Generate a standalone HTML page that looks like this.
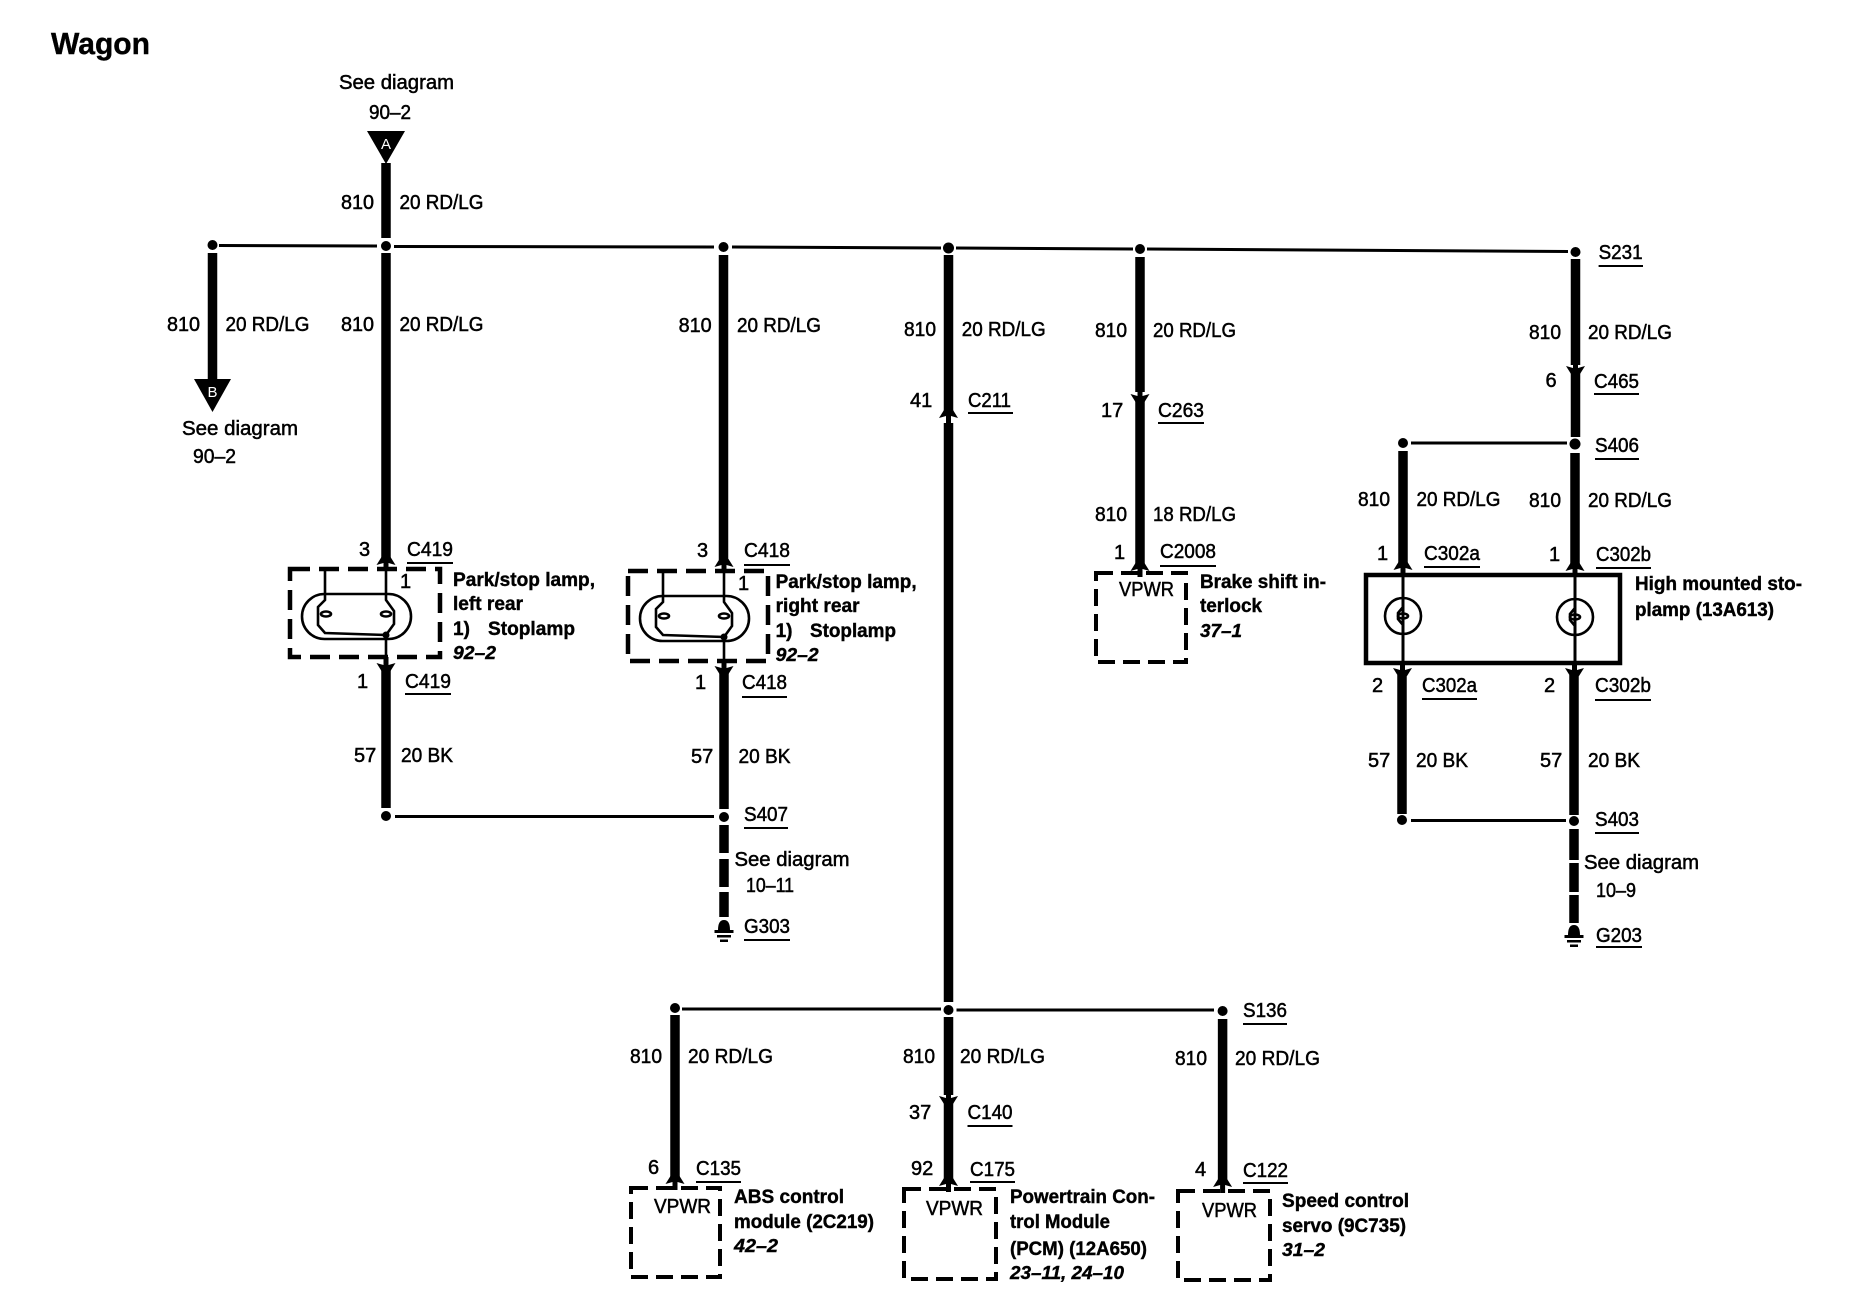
<!DOCTYPE html>
<html><head><meta charset="utf-8"><style>
html,body{margin:0;padding:0;background:#fff;width:1858px;height:1312px;overflow:hidden}
svg{display:block}
text{font-family:"Liberation Sans",sans-serif;font-size:20px;fill:#000;stroke:#000;stroke-width:.5}
.b{font-weight:bold;font-size:19px;stroke-width:.4}
.i{font-weight:bold;font-style:italic;font-size:18.5px;stroke-width:.4}
.w{stroke:#000;stroke-width:9.5;fill:none}
.h{stroke:#000;stroke-width:3;fill:none}
.u{stroke:#000;stroke-width:2;fill:none}
.d{stroke:#000;stroke-width:4.5;fill:none;stroke-dasharray:20 9}
.v{stroke:#000;stroke-width:4;fill:none;stroke-dasharray:17 8}
.t{stroke:#000;stroke-width:2.6;fill:none}
</style></head><body>
<svg width="1858" height="1312" viewBox="0 0 1858 1312" xmlns="http://www.w3.org/2000/svg">
<defs>
<path id="up" d="M0 0L4.5 2L9.5 10L2.5 8V16H-2.5V8L-9.5 10L-4.5 2Z"/>
<path id="dn" d="M0 0L4.5 -2L9.5 -10L2.5 -8V-16H-2.5V-8L-9.5 -10L-4.5 -2Z"/>
<g id="lamp">
<rect class="t" x="-84" y="25" width="109" height="45" rx="22.5"/>
<path class="t" d="M-61 0V31L-68 38V56L-61 64L0 66M0 0V31L8 42V55L0 66V96"/>
<ellipse class="t" cx="-60" cy="45" rx="5" ry="2.5"/>
<ellipse class="t" cx="0" cy="45" rx="5" ry="2.5"/>
<circle cx="0" cy="66" r="3.5"/>
</g>
<g id="bulb">
<circle class="t" cx="0" cy="0" r="18"/>
<path class="t" d="M0 -18V-9L-5 -3V3L0 9V18"/>
<ellipse class="t" cx="0" cy="0" rx="5" ry="2.5"/>
</g>
<g id="gnd">
<path d="M-6 10Q-6 0 0 0Q6 0 6 10Z"/>
<rect x="-9.5" y="10" width="19" height="3"/>
<rect x="-7" y="15" width="14" height="2.5"/>
<rect x="-4" y="19.5" width="8" height="2.5"/>
</g>
</defs>

<text x="51" y="54" style="font-size:31px;font-weight:bold;stroke-width:.4" textLength="99" lengthAdjust="spacingAndGlyphs">Wagon</text>

<!-- top bus -->
<path class="h" d="M219 245.5L377 246M394 246.5L714 247M732 247L941 248M956 248L1133 249M1147 249L1568 251.5"/>
<circle cx="212.5" cy="245" r="5"/><circle cx="386" cy="246" r="5"/><circle cx="723.5" cy="247" r="5"/><circle cx="948.5" cy="248" r="5.5"/><circle cx="1140" cy="249" r="5"/><circle cx="1575.5" cy="252" r="5"/>

<!-- A -->
<text x="339" y="89" textLength="115" lengthAdjust="spacingAndGlyphs">See diagram</text>
<text x="369" y="119" textLength="42" lengthAdjust="spacingAndGlyphs">90–2</text>
<path d="M367 131H405L386 164Z"/>
<text x="386" y="149" text-anchor="middle" style="font-size:15px;fill:#fff;stroke:none">A</text>
<path class="w" d="M386 163V238"/>
<text x="341" y="209" textLength="33" lengthAdjust="spacingAndGlyphs">810</text>
<text x="399.5" y="209" textLength="84" lengthAdjust="spacingAndGlyphs">20 RD/LG</text>

<!-- B -->
<path class="w" d="M212.5 253V382"/>
<path d="M194 379H231L212.5 412Z"/>
<text x="212.5" y="397" text-anchor="middle" style="font-size:15px;fill:#fff;stroke:none">B</text>
<text x="167" y="331" textLength="33" lengthAdjust="spacingAndGlyphs">810</text>
<text x="225.5" y="331" textLength="84" lengthAdjust="spacingAndGlyphs">20 RD/LG</text>
<text x="182" y="435" textLength="116" lengthAdjust="spacingAndGlyphs">See diagram</text>
<text x="193" y="463" textLength="43" lengthAdjust="spacingAndGlyphs">90–2</text>

<!-- left lamp -->
<path class="w" d="M386 253V558"/>
<use href="#up" x="386" y="555"/>
<text x="341" y="331" textLength="33" lengthAdjust="spacingAndGlyphs">810</text>
<text x="399.5" y="331" textLength="84" lengthAdjust="spacingAndGlyphs">20 RD/LG</text>
<text x="359" y="556">3</text>
<text x="407" y="556" textLength="46" lengthAdjust="spacingAndGlyphs">C419</text><path class="u" d="M407 563H453"/>
<path class="d" d="M290 569H440V657H290Z"/>
<use href="#lamp" x="386" y="569"/>
<text x="400" y="588">1</text>
<text class="b" x="453" y="586" textLength="142" lengthAdjust="spacingAndGlyphs">Park/stop lamp,</text>
<text class="b" x="453" y="610" textLength="70" lengthAdjust="spacingAndGlyphs">left rear</text>
<text class="b" x="453" y="635">1)</text>
<text class="b" x="488" y="635" textLength="87" lengthAdjust="spacingAndGlyphs">Stoplamp</text>
<text class="i" x="453" y="659" textLength="43" lengthAdjust="spacingAndGlyphs">92–2</text>
<use href="#dn" x="386" y="673"/>
<path class="w" d="M386 670V808"/>
<text x="357" y="688">1</text>
<text x="405" y="688" textLength="46" lengthAdjust="spacingAndGlyphs">C419</text><path class="u" d="M405 694H451"/>
<text x="354" y="762">57</text>
<text x="401" y="762" textLength="52" lengthAdjust="spacingAndGlyphs">20 BK</text>
<circle cx="386" cy="816" r="5"/>
<path class="h" d="M395 816.5H714"/>
<circle cx="724" cy="817" r="5"/>

<!-- right lamp -->
<path class="w" d="M723.5 255V560"/>
<use href="#up" x="724" y="557"/>
<text x="678.6" y="332" textLength="33" lengthAdjust="spacingAndGlyphs">810</text>
<text x="737" y="332" textLength="84" lengthAdjust="spacingAndGlyphs">20 RD/LG</text>
<text x="697" y="557">3</text>
<text x="744" y="557" textLength="46" lengthAdjust="spacingAndGlyphs">C418</text><path class="u" d="M744 565H790"/>
<path class="d" d="M628 571H768V661H628Z"/>
<use href="#lamp" x="724" y="571"/>
<text x="738" y="590">1</text>
<text class="b" x="775.6" y="588" textLength="141" lengthAdjust="spacingAndGlyphs">Park/stop lamp,</text>
<text class="b" x="775.6" y="612" textLength="84" lengthAdjust="spacingAndGlyphs">right rear</text>
<text class="b" x="775.6" y="637">1)</text>
<text class="b" x="810" y="637" textLength="86" lengthAdjust="spacingAndGlyphs">Stoplamp</text>
<text class="i" x="775.6" y="661" textLength="43" lengthAdjust="spacingAndGlyphs">92–2</text>
<use href="#dn" x="724" y="676"/>
<path class="w" d="M724 673V809"/>
<text x="695" y="689">1</text>
<text x="742" y="689" textLength="45" lengthAdjust="spacingAndGlyphs">C418</text><path class="u" d="M742 697H787"/>
<text x="691" y="763">57</text>
<text x="738.5" y="763" textLength="52" lengthAdjust="spacingAndGlyphs">20 BK</text>
<text x="744" y="821" textLength="44" lengthAdjust="spacingAndGlyphs">S407</text><path class="u" d="M744 828H788"/>
<path class="w" d="M724 825V853M724 859V887M724 892V917"/>
<text x="734.5" y="866" textLength="115" lengthAdjust="spacingAndGlyphs">See diagram</text>
<text x="746" y="892" textLength="48" lengthAdjust="spacingAndGlyphs">10–11</text>
<use href="#gnd" x="724" y="920"/>
<text x="744" y="933" textLength="46" lengthAdjust="spacingAndGlyphs">G303</text><path class="u" d="M744 940H790"/>

<!-- center trunk -->
<path class="w" d="M948.5 255V411"/>
<use href="#up" x="948.5" y="408"/>
<path class="w" d="M948.5 423V1002"/>
<text x="904" y="336" textLength="32" lengthAdjust="spacingAndGlyphs">810</text>
<text x="961.7" y="336" textLength="84" lengthAdjust="spacingAndGlyphs">20 RD/LG</text>
<text x="910" y="407">41</text>
<text x="968" y="407" textLength="43" lengthAdjust="spacingAndGlyphs">C211</text><path class="u" d="M968 413H1013"/>

<!-- bottom bus -->
<path class="h" d="M682 1009H941M956.5 1010H1214"/>
<circle cx="675" cy="1008" r="5"/><circle cx="948.5" cy="1010" r="5"/><circle cx="1222.6" cy="1011" r="5"/>
<text x="1243" y="1017" textLength="44" lengthAdjust="spacingAndGlyphs">S136</text><path class="u" d="M1243 1024H1287"/>

<path class="w" d="M675 1015V1177"/>
<use href="#up" x="675" y="1174"/>
<text x="630" y="1063" textLength="32" lengthAdjust="spacingAndGlyphs">810</text>
<text x="688" y="1063" textLength="85" lengthAdjust="spacingAndGlyphs">20 RD/LG</text>
<text x="648" y="1174">6</text>
<text x="696" y="1175" textLength="45" lengthAdjust="spacingAndGlyphs">C135</text><path class="u" d="M696 1182H741"/>
<path class="v" d="M631 1188H720V1277H631Z"/>
<text x="654" y="1213" textLength="57" lengthAdjust="spacingAndGlyphs">VPWR</text>
<text class="b" x="734" y="1203" textLength="110" lengthAdjust="spacingAndGlyphs">ABS control</text>
<text class="b" x="734" y="1228" textLength="140" lengthAdjust="spacingAndGlyphs">module (2C219)</text>
<text class="i" x="734" y="1252" textLength="44" lengthAdjust="spacingAndGlyphs">42–2</text>

<path class="w" d="M948.5 1017V1095"/>
<use href="#dn" x="948.5" y="1106"/>
<path class="w" d="M948.5 1103V1179"/>
<use href="#up" x="948.5" y="1176"/>
<text x="903" y="1063" textLength="32" lengthAdjust="spacingAndGlyphs">810</text>
<text x="960" y="1063" textLength="85" lengthAdjust="spacingAndGlyphs">20 RD/LG</text>
<text x="909" y="1119">37</text>
<text x="967.5" y="1119" textLength="45" lengthAdjust="spacingAndGlyphs">C140</text><path class="u" d="M967.5 1126H1012.5"/>
<text x="911" y="1175">92</text>
<text x="970" y="1176" textLength="45" lengthAdjust="spacingAndGlyphs">C175</text><path class="u" d="M970 1182H1015"/>
<path class="v" d="M904 1189H996V1279H904Z"/>
<text x="926" y="1215" textLength="57" lengthAdjust="spacingAndGlyphs">VPWR</text>
<text class="b" x="1010" y="1203" textLength="145" lengthAdjust="spacingAndGlyphs">Powertrain Con-</text>
<text class="b" x="1010" y="1228" textLength="100" lengthAdjust="spacingAndGlyphs">trol Module</text>
<text class="b" x="1010" y="1255" textLength="137" lengthAdjust="spacingAndGlyphs">(PCM) (12A650)</text>
<text class="i" x="1010" y="1279" textLength="114" lengthAdjust="spacingAndGlyphs">23–11, 24–10</text>

<path class="w" d="M1222.6 1019V1180"/>
<use href="#up" x="1222.6" y="1177"/>
<text x="1175" y="1065" textLength="32" lengthAdjust="spacingAndGlyphs">810</text>
<text x="1235" y="1065" textLength="85" lengthAdjust="spacingAndGlyphs">20 RD/LG</text>
<text x="1195" y="1176">4</text>
<text x="1243" y="1177" textLength="45" lengthAdjust="spacingAndGlyphs">C122</text><path class="u" d="M1243 1183H1288"/>
<path class="v" d="M1178 1191H1270V1280H1178Z"/>
<text x="1202" y="1217" textLength="55" lengthAdjust="spacingAndGlyphs">VPWR</text>
<text class="b" x="1282" y="1207" textLength="127" lengthAdjust="spacingAndGlyphs">Speed control</text>
<text class="b" x="1282" y="1232" textLength="124" lengthAdjust="spacingAndGlyphs">servo (9C735)</text>
<text class="i" x="1282" y="1256" textLength="43" lengthAdjust="spacingAndGlyphs">31–2</text>

<!-- brake -->
<path class="w" d="M1140 257V392"/>
<use href="#dn" x="1140" y="404"/>
<path class="w" d="M1140 401V564"/>
<use href="#up" x="1140" y="561"/>
<text x="1095" y="337" textLength="32" lengthAdjust="spacingAndGlyphs">810</text>
<text x="1153" y="337" textLength="83" lengthAdjust="spacingAndGlyphs">20 RD/LG</text>
<text x="1101" y="417">17</text>
<text x="1158" y="417" textLength="46" lengthAdjust="spacingAndGlyphs">C263</text><path class="u" d="M1158 423H1204"/>
<text x="1095" y="521" textLength="32" lengthAdjust="spacingAndGlyphs">810</text>
<text x="1153" y="521" textLength="83" lengthAdjust="spacingAndGlyphs">18 RD/LG</text>
<text x="1114" y="559">1</text>
<text x="1160" y="558" textLength="56" lengthAdjust="spacingAndGlyphs">C2008</text><path class="u" d="M1160 566H1216"/>
<path class="v" d="M1096 573H1186V662H1096Z"/>
<text x="1119" y="596" textLength="55" lengthAdjust="spacingAndGlyphs">VPWR</text>
<text class="b" x="1200" y="588" textLength="126" lengthAdjust="spacingAndGlyphs">Brake shift in-</text>
<text class="b" x="1200" y="612" textLength="62" lengthAdjust="spacingAndGlyphs">terlock</text>
<text class="i" x="1200" y="637" textLength="42" lengthAdjust="spacingAndGlyphs">37–1</text>

<!-- high mount -->
<text x="1598.6" y="259" textLength="44" lengthAdjust="spacingAndGlyphs">S231</text><path class="u" d="M1598.6 266H1643"/>
<path class="w" d="M1575.5 259V365"/>
<use href="#dn" x="1575.5" y="376"/>
<path class="w" d="M1575.5 373V437"/>
<text x="1529" y="339" textLength="32" lengthAdjust="spacingAndGlyphs">810</text>
<text x="1588" y="339" textLength="84" lengthAdjust="spacingAndGlyphs">20 RD/LG</text>
<text x="1545.5" y="387">6</text>
<text x="1594" y="388" textLength="45" lengthAdjust="spacingAndGlyphs">C465</text><path class="u" d="M1594 394H1639"/>
<circle cx="1575" cy="444" r="5.5"/><circle cx="1403" cy="443" r="5"/>
<path class="h" d="M1411 443H1567"/>
<text x="1595" y="452" textLength="44" lengthAdjust="spacingAndGlyphs">S406</text><path class="u" d="M1595 459H1639"/>
<path class="w" d="M1403 451V563M1575 453V564"/>
<use href="#up" x="1403" y="560"/><use href="#up" x="1575" y="561"/>
<text x="1358" y="506" textLength="32" lengthAdjust="spacingAndGlyphs">810</text>
<text x="1416.5" y="506" textLength="84" lengthAdjust="spacingAndGlyphs">20 RD/LG</text>
<text x="1529" y="507" textLength="32" lengthAdjust="spacingAndGlyphs">810</text>
<text x="1588" y="507" textLength="84" lengthAdjust="spacingAndGlyphs">20 RD/LG</text>
<text x="1377" y="560">1</text>
<text x="1424" y="560" textLength="56" lengthAdjust="spacingAndGlyphs">C302a</text><path class="u" d="M1424 567H1480"/>
<text x="1549" y="561">1</text>
<text x="1596" y="561" textLength="55" lengthAdjust="spacingAndGlyphs">C302b</text><path class="u" d="M1596 568H1651"/>
<path d="M1366 575H1620V663H1366Z" fill="none" stroke="#000" stroke-width="4.5"/>
<path class="h" d="M1403 565V672M1575 565V672"/>
<use href="#bulb" x="1403" y="616"/><use href="#bulb" x="1575" y="617"/>
<text class="b" x="1635" y="590" textLength="167" lengthAdjust="spacingAndGlyphs">High mounted sto-</text>
<text class="b" x="1635" y="616" textLength="139" lengthAdjust="spacingAndGlyphs">plamp (13A613)</text>
<use href="#dn" x="1402.5" y="678"/><use href="#dn" x="1574.5" y="678"/>
<path class="w" d="M1402 675V814M1574 675V815"/>
<text x="1372" y="692">2</text>
<text x="1422" y="692" textLength="55" lengthAdjust="spacingAndGlyphs">C302a</text><path class="u" d="M1422 699H1477"/>
<text x="1544" y="692">2</text>
<text x="1595" y="692" textLength="56" lengthAdjust="spacingAndGlyphs">C302b</text><path class="u" d="M1595 700H1651"/>
<text x="1368" y="767">57</text>
<text x="1416" y="767" textLength="52" lengthAdjust="spacingAndGlyphs">20 BK</text>
<text x="1540" y="767">57</text>
<text x="1588" y="767" textLength="52" lengthAdjust="spacingAndGlyphs">20 BK</text>
<circle cx="1402" cy="820" r="5"/><circle cx="1574" cy="821" r="5"/>
<path class="h" d="M1411 820.5H1566"/>
<text x="1595" y="826" textLength="44" lengthAdjust="spacingAndGlyphs">S403</text><path class="u" d="M1595 833H1639"/>
<path class="w" d="M1574 829V860M1574 863V892M1574 895V923"/>
<text x="1584" y="869" textLength="115" lengthAdjust="spacingAndGlyphs">See diagram</text>
<text x="1596" y="897" textLength="40" lengthAdjust="spacingAndGlyphs">10–9</text>
<use href="#gnd" x="1574" y="925"/>
<text x="1596" y="942" textLength="46" lengthAdjust="spacingAndGlyphs">G203</text><path class="u" d="M1596 947H1642"/>
</svg>
</body></html>
